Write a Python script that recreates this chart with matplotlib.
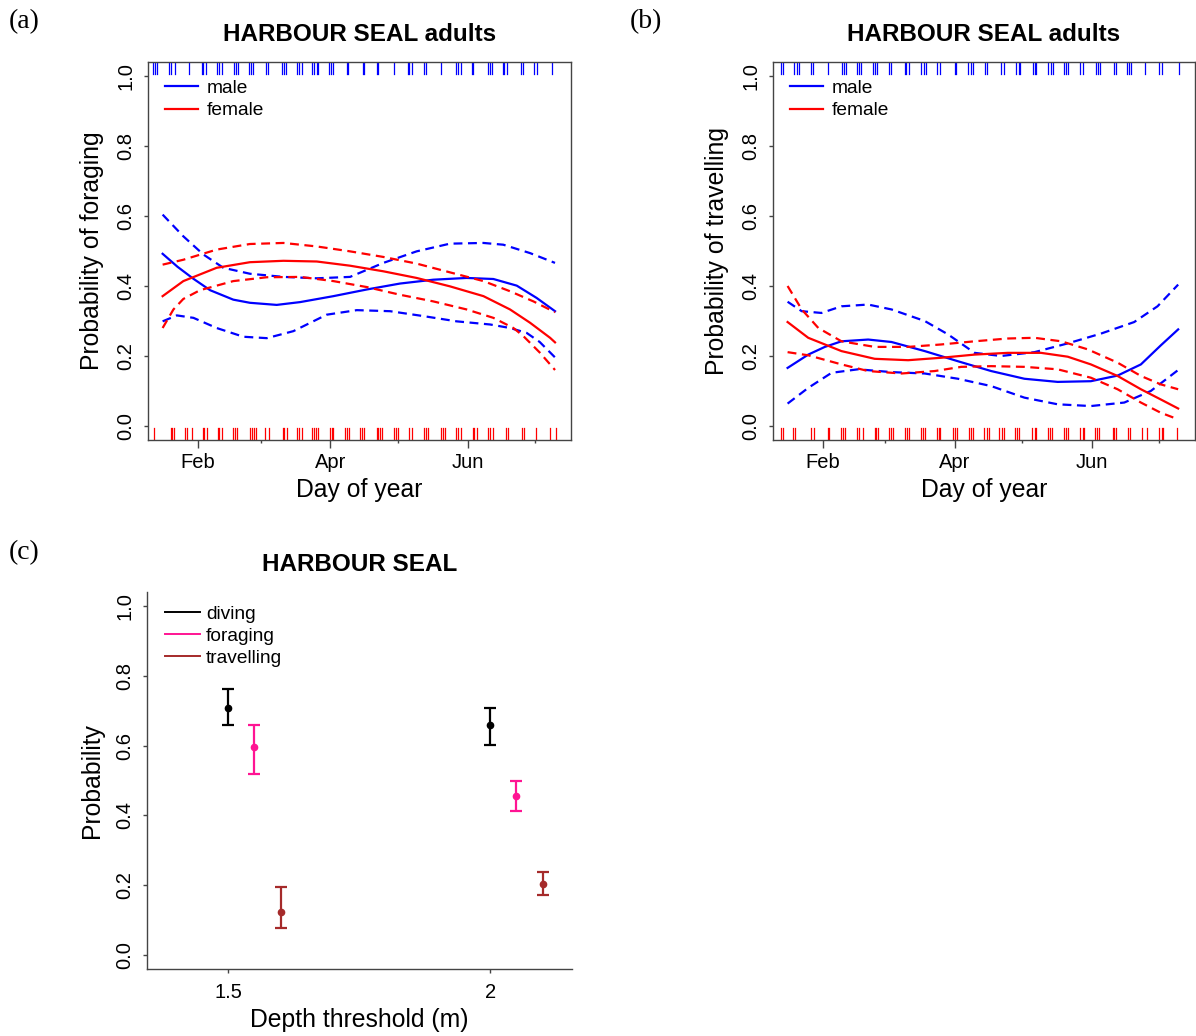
import numpy as np
import matplotlib
matplotlib.use("Agg")
import matplotlib.pyplot as plt
from matplotlib.lines import Line2D

plt.rcParams['font.family'] = ['Liberation Sans', 'DejaVu Sans']

# ---------------- data ----------------
month_major = [32, 91, 152]
month_major_labels = ["Feb", "Apr", "Jun"]
month_minor = [60, 121, 182]
prob_ticks = [0.0, 0.2, 0.4, 0.6, 0.8, 1.0]

# panel (a): foraging
a_m_fit_days = [16.4, 23, 30, 37.5, 47.8, 55.2, 67.1, 77.5, 92.3, 107.1, 121.9, 136.7, 151.5, 163.4, 173.8, 182.6, 190.8]
a_m_fit = [0.492, 0.455, 0.421, 0.388, 0.361, 0.352, 0.346, 0.354, 0.371, 0.390, 0.407, 0.418, 0.423, 0.420, 0.401, 0.366, 0.328]
a_m_up_days = [16.4, 25.6, 34.5, 43.4, 55.2, 70.1, 84.9, 99.7, 114.5, 129.3, 144.1, 159.0, 167.8, 179.7, 190.8]
a_m_up = [0.604, 0.542, 0.490, 0.452, 0.435, 0.426, 0.422, 0.426, 0.466, 0.499, 0.521, 0.523, 0.518, 0.494, 0.466]
a_m_lo_days = [16.4, 22.7, 30.1, 40.4, 52.3, 62.7, 74.5, 89.3, 102.7, 117.5, 132.3, 147.1, 162.0, 170.8, 178.2, 184.0, 190.8]
a_m_lo = [0.299, 0.316, 0.309, 0.280, 0.255, 0.251, 0.271, 0.318, 0.331, 0.328, 0.314, 0.299, 0.290, 0.280, 0.266, 0.240, 0.196]
a_f_fit_days = [16.4, 25.6, 40.4, 55.2, 70.1, 84.9, 99.7, 114.5, 129.3, 144.1, 159.0, 170.8, 179.7, 188.6, 190.8]
a_f_fit = [0.371, 0.414, 0.452, 0.468, 0.472, 0.470, 0.458, 0.442, 0.423, 0.399, 0.371, 0.333, 0.295, 0.252, 0.239]
a_f_up_days = [16.4, 25.6, 40.4, 55.2, 70.1, 84.9, 99.7, 114.5, 129.3, 144.1, 159.0, 170.8, 181.2, 190.8]
a_f_up = [0.461, 0.475, 0.504, 0.520, 0.523, 0.513, 0.499, 0.483, 0.464, 0.439, 0.414, 0.385, 0.356, 0.325]
a_f_lo_days = [16.4, 21.2, 25.6, 33.0, 47.8, 62.7, 77.5, 92.3, 107.1, 121.9, 136.7, 151.5, 163.4, 172.3, 176.7, 184.0, 190.8]
a_f_lo = [0.280, 0.333, 0.363, 0.388, 0.414, 0.425, 0.426, 0.414, 0.397, 0.375, 0.356, 0.333, 0.309, 0.280, 0.257, 0.210, 0.160]

a_rug_male = [12.3, 13.0, 13.8, 19.4, 20.1, 21.8, 28.1, 33.8, 34.5, 35.5, 40.7, 41.6, 42.7,
              48.1, 48.9, 50.1, 55.0, 55.7, 56.4, 62.2, 63.4, 69.3, 70.4, 71.2, 76.3, 77.2, 78.2,
              83.0, 83.7, 84.9, 85.6, 90.5, 91.1, 92.3, 98.2, 99.0, 105.3, 106.1, 111.5, 112.3,
              119.3, 125.3, 126.1, 127.1, 132.6, 133.5, 140.1, 146.8, 147.8, 148.9, 153.8, 154.5,
              161.2, 161.9, 163.0, 167.5, 168.3, 169.3, 175.5, 176.7, 181.6, 183.0, 189.3]
a_rug_female = [12.7, 20.0, 20.7, 21.6, 26.4, 27.1, 29.3, 34.2, 35.0, 36.0, 40.9, 41.6, 42.7,
                47.8, 48.6, 49.6, 55.3, 56.0, 57.0, 57.8, 61.9, 63.7, 69.8, 70.5, 71.5, 76.0, 77.0,
                78.2, 83.0, 83.7, 84.6, 85.6, 90.8, 91.5, 92.3, 97.5, 98.5, 99.4, 104.1, 105.2,
                106.1, 111.5, 112.3, 113.0, 113.8, 119.3, 120.1, 120.9, 126.1, 127.1, 132.6, 133.5,
                134.5, 140.1, 140.9, 141.9, 146.8, 147.8, 148.9, 154.2, 155.0, 156.0, 161.2, 161.9,
                163.1, 168.9, 169.8, 176.0, 177.2, 182.4, 188.6, 191.3]

# panel (b): travelling
b_m_fit_days = [16.4, 25.6, 33.0, 40.4, 52.3, 62.7, 77.5, 92.3, 107.1, 121.9, 136.7, 151.5, 163.4, 173.8, 182.6, 190.4]
b_m_fit = [0.166, 0.204, 0.226, 0.242, 0.247, 0.240, 0.214, 0.185, 0.157, 0.135, 0.126, 0.128, 0.144, 0.176, 0.230, 0.276]
b_m_up_days = [16.4, 22.7, 31.5, 40.4, 52.3, 62.7, 77.5, 87.8, 99.7, 111.5, 126.4, 141.2, 156.0, 170.8, 181.2, 190.4]
b_m_up = [0.355, 0.328, 0.323, 0.342, 0.347, 0.333, 0.300, 0.262, 0.209, 0.200, 0.211, 0.236, 0.264, 0.297, 0.342, 0.404]
b_m_lo_days = [16.4, 25.6, 36.0, 47.8, 62.7, 77.5, 92.3, 107.1, 121.9, 136.7, 151.5, 166.4, 178.2, 190.4]
b_m_lo = [0.064, 0.109, 0.152, 0.162, 0.154, 0.150, 0.135, 0.114, 0.081, 0.062, 0.057, 0.067, 0.100, 0.160]
b_f_fit_days = [16.4, 25.6, 40.4, 55.2, 70.1, 84.9, 99.7, 114.5, 129.3, 141.2, 151.5, 163.4, 173.8, 182.6, 190.4]
b_f_fit = [0.297, 0.252, 0.214, 0.192, 0.188, 0.195, 0.204, 0.209, 0.209, 0.198, 0.176, 0.143, 0.105, 0.076, 0.050]
b_f_up_days = [16.4, 22.7, 30.1, 40.4, 55.2, 70.1, 84.9, 99.7, 114.5, 126.4, 138.3, 150.1, 163.4, 173.8, 182.6, 190.4]
b_f_up = [0.400, 0.333, 0.280, 0.242, 0.226, 0.226, 0.233, 0.242, 0.250, 0.252, 0.242, 0.219, 0.181, 0.143, 0.119, 0.105]
b_f_lo_days = [16.4, 25.6, 40.4, 52.3, 67.1, 81.9, 93.8, 107.1, 121.9, 136.7, 151.5, 163.4, 173.8, 182.6, 190.4]
b_f_lo = [0.211, 0.202, 0.176, 0.157, 0.150, 0.157, 0.169, 0.171, 0.169, 0.162, 0.138, 0.105, 0.067, 0.038, 0.019]

b_rug_male = [13.5, 14.5, 19.4, 20.4, 21.5, 26.8, 27.8, 34.2, 40.7, 41.6, 42.4, 47.5, 48.3, 49.3,
              54.5, 55.5, 56.4, 61.5, 62.4, 68.6, 69.3, 70.4, 76.0, 77.2, 78.2, 83.0, 84.1, 90.8,
              91.5, 96.7, 97.9, 99.0, 104.4, 105.3, 111.5, 112.6, 118.2, 119.3, 120.1, 125.6,
              126.4, 127.1, 132.6, 133.8, 134.5, 139.4, 140.4, 141.5, 146.8, 147.8, 153.8, 154.5,
              155.7, 161.9, 162.7, 167.5, 168.6, 169.3, 175.5, 181.9, 183.0, 190.8]
b_rug_female = [13.5, 14.2, 19.0, 19.7, 26.7, 28.3, 34.5, 35.0, 40.4, 41.2, 41.9, 47.5, 48.3, 49.8,
                55.5, 56.0, 56.7, 61.5, 62.4, 63.4, 68.6, 69.6, 70.5, 75.7, 76.7, 77.8, 83.0, 83.7,
                84.4, 90.1, 91.1, 92.0, 97.0, 97.9, 99.0, 104.1, 105.2, 106.1, 110.8, 111.8, 112.7,
                117.8, 118.7, 119.7, 125.3, 126.4, 127.1, 132.6, 133.5, 134.1, 139.4, 140.4, 141.5,
                146.8, 147.8, 148.6, 153.3, 154.2, 155.2, 161.2, 161.9, 162.7, 168.1, 169.0, 174.5,
                176.4, 181.9, 183.0, 183.8, 190.1]

# panel (c)
c_behaviours = ["diving", "foraging", "travelling"]
c_colors = ["black", "#FF1493", "#A52A2A"]
c_depth = [1.5, 2.0]
c_offsets = [0.0, 0.05, 0.10]
c_est = {"diving": [0.708, 0.659], "foraging": [0.596, 0.457], "travelling": [0.123, 0.204]}
c_low = {"diving": [0.660, 0.601], "foraging": [0.519, 0.413], "travelling": [0.077, 0.171]}
c_high = {"diving": [0.762, 0.709], "foraging": [0.658, 0.499], "travelling": [0.195, 0.239]}
c_xticks = [1.5, 2.0]
c_xticklabels = ["1.5", "2"]

# ---------------- figure ----------------
W, H = 1196, 1036
fig = plt.figure(figsize=(W / 100, H / 100), dpi=100)

def frac(l, t, r, b):
    return [l / W, 1 - b / H, (r - l) / W, (b - t) / H]

spine_col = "#444444"
lw_curve = 1.6
dash = (0, (4, 2.5))
TICK_FS = 14.5
LAB_FS = 17.8
TITLE_FS = 17.5
LEG_FS = 13.8

def style_axes(ax, full_box=True):
    for s in ax.spines.values():
        s.set_color(spine_col)
        s.set_linewidth(1.0)
    if not full_box:
        ax.spines['top'].set_visible(False)
        ax.spines['right'].set_visible(False)
    ax.set_yticks(prob_ticks)
    ax.set_yticklabels([f"{v:.1f}" for v in prob_ticks], rotation=90, va='center')
    ax.tick_params(axis='y', length=3.2, width=1, color=spine_col, pad=6, labelsize=TICK_FS)
    ax.set_ylim(-0.04, 1.04)

def season_panel(ax, curves, rug_m, rug_f, ylabel):
    for days, vals, col, ls in curves:
        ax.plot(days, vals, color=col, lw=lw_curve, linestyle=ls)
    for d in rug_m:
        ax.axvline(d, ymin=1 - 0.032, ymax=1, color="blue", lw=0.9)
    for d in rug_f:
        ax.axvline(d, ymin=0, ymax=0.032, color="red", lw=0.9)
    ax.set_xlim(9.9, 197.9)
    style_axes(ax, True)
    ax.set_xticks(month_major)
    ax.set_xticklabels(month_major_labels)
    ax.set_xticks(month_minor, minor=True)
    ax.tick_params(axis='x', which='major', length=5.5, width=1, color=spine_col, pad=4, labelsize=TICK_FS)
    ax.tick_params(axis='x', which='minor', length=2.5, width=1, color=spine_col)
    ax.set_xlabel("Day of year", fontsize=LAB_FS, va='center')
    ax.xaxis.set_label_coords(0.5, -0.132)
    ax.set_ylabel(ylabel, fontsize=LAB_FS, va='center')
    ax.yaxis.set_label_coords(-0.132, 0.5)
    ax.set_title("HARBOUR SEAL adults", fontsize=TITLE_FS, fontweight='bold', pad=15)
    handles = [Line2D([], [], color="blue", lw=lw_curve), Line2D([], [], color="red", lw=lw_curve)]
    ax.legend(handles, ["male", "female"], loc='upper left', bbox_to_anchor=(0.04, 0.953),
              frameon=False, fontsize=LEG_FS, handlelength=1.75, handletextpad=0.45,
              borderpad=0, borderaxespad=0, labelspacing=0.25)

# (a)
axa = fig.add_axes(frac(148, 62, 571, 440))
season_panel(axa, [
    (a_m_fit_days, a_m_fit, "blue", "-"),
    (a_m_up_days, a_m_up, "blue", dash),
    (a_m_lo_days, a_m_lo, "blue", dash),
    (a_f_fit_days, a_f_fit, "red", "-"),
    (a_f_up_days, a_f_up, "red", dash),
    (a_f_lo_days, a_f_lo, "red", dash),
], a_rug_male, a_rug_female, "Probability of foraging")

# (b)
axb = fig.add_axes(frac(773, 62, 1195, 440))
season_panel(axb, [
    (b_m_fit_days, b_m_fit, "blue", "-"),
    (b_m_up_days, b_m_up, "blue", dash),
    (b_m_lo_days, b_m_lo, "blue", dash),
    (b_f_fit_days, b_f_fit, "red", "-"),
    (b_f_up_days, b_f_up, "red", dash),
    (b_f_lo_days, b_f_lo, "red", dash),
], b_rug_male, b_rug_female, "Probability of travelling")

# (c)
axc = fig.add_axes(frac(147, 592, 572, 969))
for beh, col, off in zip(c_behaviours, c_colors, c_offsets):
    xs = np.array(c_depth) + off
    est = np.array(c_est[beh])
    lo = np.array(c_low[beh])
    hi = np.array(c_high[beh])
    axc.errorbar(xs, est, yerr=[est - lo, hi - est], fmt='o', color=col, ecolor=col,
                 elinewidth=1.6, capsize=4, capthick=1.6, markersize=4.5, label=beh)
axc.set_xlim(1.345, 2.156)
style_axes(axc, False)
axc.set_xticks(c_xticks)
axc.set_xticklabels(c_xticklabels)
axc.tick_params(axis='x', length=3.2, width=1, color=spine_col, pad=7, labelsize=TICK_FS)
axc.set_xlabel("Depth threshold (m)", fontsize=LAB_FS, va='center')
axc.xaxis.set_label_coords(0.5, -0.135)
axc.set_ylabel("Probability", fontsize=LAB_FS, va='center')
axc.yaxis.set_label_coords(-0.13, 0.5)
axc.set_title("HARBOUR SEAL", fontsize=TITLE_FS, fontweight='bold', pad=15)
hc = [Line2D([], [], color=c, lw=1.4) for c in c_colors]
axc.legend(hc, c_behaviours, loc='upper left', bbox_to_anchor=(0.042, 0.965), frameon=False,
           fontsize=LEG_FS, handlelength=1.85, handletextpad=0.3, borderpad=0, borderaxespad=0,
           labelspacing=0.25)

# panel letters
for lab, px, py in [("(a)", 24, 22), ("(b)", 646, 22), ("(c)", 24, 553)]:
    fig.text(px / W, 1 - py / H, lab, family=['Liberation Serif', 'DejaVu Serif'], fontsize=20,
             ha='center', va='center')

fig.savefig("out.png", dpi=100)
